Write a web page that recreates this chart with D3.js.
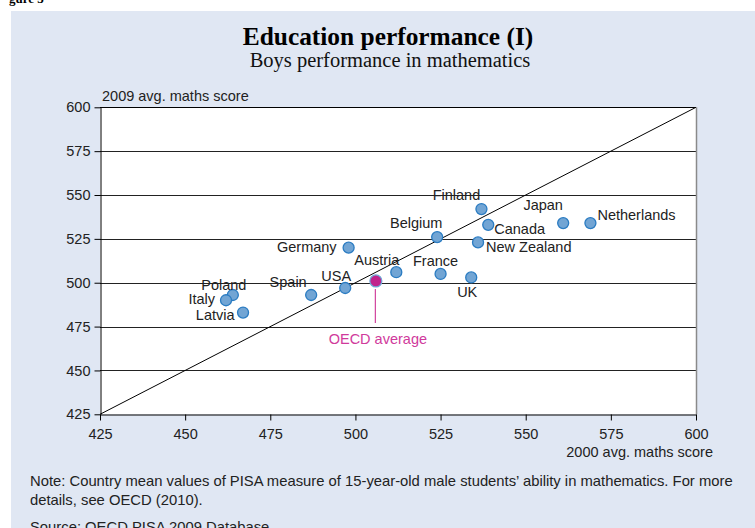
<!DOCTYPE html>
<html><head><meta charset="utf-8">
<script src="https://cdn.jsdelivr.net/npm/d3@7"></script>
<style>body{margin:0;background:#fff;} svg{display:block;}</style>
</head><body>
<svg id="chart" width="755" height="528"></svg>
<script>
// ---- data ----
const countries = ["Finland","Japan","Netherlands","Canada","Belgium","New Zealand","Germany","Austria","France","UK","USA","Spain","Poland","Italy","Latvia"];
const score2000 = [537,561,569,539,524,536,498,512,525,534,497,487,464,462,467];
const score2009 = [542,534,534,533,526,523,520,506,505,503,497,493,493,490,483];
const oecdLabel = "OECD average";
const oecd2000 = 506;
const oecd2009 = 501;
const tickValues = [425,450,475,500,525,550,575,600];
const title = "Education performance (I)";
const subtitle = "Boys performance in mathematics";
const xTitle = "2000 avg. maths score";
const yTitle = "2009 avg. maths score";
const noteLines = ["Note: Country mean values of PISA measure of 15-year-old male students\u2019 ability in mathematics. For more","details, see OECD (2010)."];
const sourceLine = "Source: OECD PISA 2009 Database";

// label placement (styling): [dx, dy, anchor]
const labelPlacement = {
  "Finland":[-25,-9,"middle"], "Japan":[-20,-13,"middle"], "Netherlands":[7,-3,"start"],
  "Canada":[6,9.5,"start"], "Belgium":[-21,-9,"middle"], "New Zealand":[8,10,"start"],
  "Germany":[-12,4.5,"end"], "Austria":[-19.5,-7,"middle"], "France":[-5,-8,"middle"],
  "UK":[-4,20,"middle"], "USA":[-9,-7,"middle"], "Spain":[-23,-8,"middle"],
  "Poland":[-9,-5.5,"middle"], "Italy":[-11,4,"end"], "Latvia":[-8.5,7,"end"]
};

const svg = d3.select("#chart");
const W = 755, H = 528;
const sans = "Liberation Sans, Arial, sans-serif";
const serif = "Liberation Serif, Times New Roman, serif";
const fs = 14.5;

// background panel
svg.append("rect").attr("x",11).attr("y",11).attr("width",W-11).attr("height",H-11).attr("fill","#E0E7F3");
// cut-off figure heading at top
svg.append("text").attr("x",9).attr("y",3).attr("font-family",serif).attr("font-weight","bold")
  .attr("font-size",13).attr("fill","#000").text("gure 3");

const x = d3.scaleLinear().domain([425,600]).range([100,696]);
const y = d3.scaleLinear().domain([425,600]).range([414.3,107.3]);

// plot area
svg.append("rect").attr("x",x(425)).attr("y",y(600)).attr("width",x(600)-x(425)).attr("height",y(425)-y(600)).attr("fill","#fff");

// gridlines
svg.append("g").selectAll("line").data(tickValues.filter(d=>d>425)).join("line")
  .attr("x1",x(425)).attr("x2",x(600)).attr("y1",d=>Math.round(y(d))+0.5).attr("y2",d=>Math.round(y(d))+0.5)
  .attr("stroke",d=>d===600?"#000":"#222").attr("stroke-width",1);
// right border
svg.append("line").attr("x1",Math.round(x(600))+0.5).attr("x2",Math.round(x(600))+0.5).attr("y1",y(600)).attr("y2",y(425))
  .attr("stroke","#8a8a8a").attr("stroke-width",1.5);

// 45-degree line
svg.append("line").attr("x1",x(425)).attr("y1",y(425)).attr("x2",x(600)).attr("y2",y(600))
  .attr("stroke","#000").attr("stroke-width",1);

// axes
const xAxis = d3.axisBottom(x).tickValues(tickValues).tickSize(6).tickSizeOuter(0).tickPadding(8);
const gx = svg.append("g").attr("transform",`translate(0,${Math.round(y(425))+0.5})`).call(xAxis);
gx.select(".domain").attr("stroke","#000");
gx.selectAll(".tick line").attr("stroke","#000");
gx.selectAll(".tick text").attr("font-family",sans).attr("font-size",fs).attr("fill","#222");

const yAxis = d3.axisLeft(y).tickValues(tickValues).tickSize(6).tickSizeOuter(0).tickPadding(4);
const gy = svg.append("g").attr("transform",`translate(${Math.round(x(425))+0.5},0)`).call(yAxis);
gy.select(".domain").attr("stroke","#000");
gy.selectAll(".tick line").attr("stroke","#000");
gy.selectAll(".tick text").attr("font-family",sans).attr("font-size",fs).attr("fill","#222");

// axis titles
svg.append("text").attr("x",102).attr("y",101).attr("font-family",sans).attr("font-size",fs).attr("fill","#222").text(yTitle);
svg.append("text").attr("x",713).attr("y",457).attr("text-anchor","end").attr("font-family",sans).attr("font-size",fs).attr("fill","#222").text(xTitle);

// points
const pts = countries.map((c,i)=>({name:c,x:score2000[i],y:score2009[i]}));
svg.append("g").selectAll("circle").data(pts).join("circle")
  .attr("cx",d=>x(d.x)).attr("cy",d=>y(d.y)).attr("r",5.5)
  .attr("fill","#72A5D4").attr("stroke","#2B7CC2").attr("stroke-width",1.3);

// labels
svg.append("g").selectAll("text").data(pts).join("text")
  .attr("x",d=>x(d.x)+labelPlacement[d.name][0]).attr("y",d=>y(d.y)+labelPlacement[d.name][1])
  .attr("text-anchor",d=>labelPlacement[d.name][2])
  .attr("font-family",sans).attr("font-size",fs).attr("fill","#222").text(d=>d.name);

// OECD average
svg.append("line").attr("x1",x(oecd2000)-0.5).attr("x2",x(oecd2000)-0.5).attr("y1",y(oecd2009)+8).attr("y2",y(oecd2009)+42)
  .attr("stroke","#D2439E").attr("stroke-width",1.2);
svg.append("circle").attr("cx",x(oecd2000)).attr("cy",y(oecd2009)).attr("r",6)
  .attr("fill","#C0228C").attr("stroke","#6FA3D3").attr("stroke-width",1.2);
svg.append("text").attr("x",x(oecd2000)+2).attr("y",y(oecd2009)+63).attr("text-anchor","middle")
  .attr("font-family",sans).attr("font-size",fs).attr("fill","#D03A9C").text(oecdLabel);

// titles
svg.append("text").attr("x",388).attr("y",45).attr("text-anchor","middle").attr("font-family",serif)
  .attr("font-weight","bold").attr("font-size",25.4).attr("fill","#000").text(title);
svg.append("text").attr("x",390).attr("y",67).attr("text-anchor","middle").attr("font-family",serif)
  .attr("font-size",20.5).attr("fill","#111").text(subtitle);

// notes
svg.append("g").selectAll("text").data(noteLines).join("text")
  .attr("x",30).attr("y",(d,i)=>486+i*18.5).attr("font-family",sans).attr("font-size",14.8).attr("fill","#222").text(d=>d);
svg.append("text").attr("x",30).attr("y",532).attr("font-family",sans).attr("font-size",14.8).attr("fill","#222").text(sourceLine);
</script>
</body></html>
